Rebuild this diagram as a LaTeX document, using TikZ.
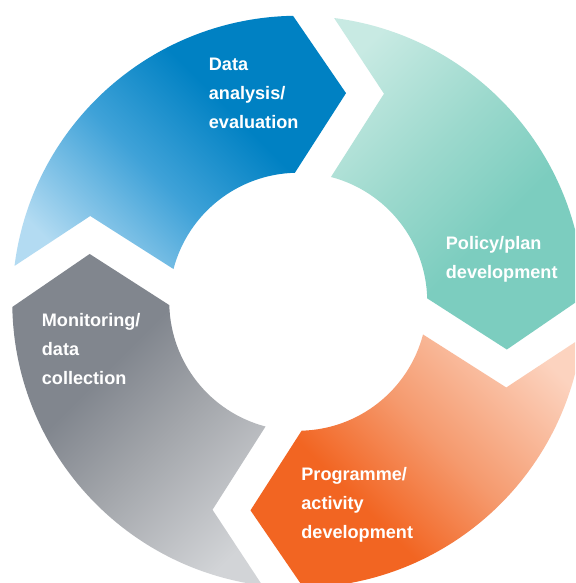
\documentclass[tikz,border=0pt]{standalone}
\usepackage{fontspec}
\setmainfont{Liberation Sans}
\definecolor{bluelight}{HTML}{B3DBF2}
\definecolor{bluemid}{HTML}{3FA2D8}
\definecolor{bluedark}{HTML}{0081C3}
\definecolor{teallight}{HTML}{C8EAE3}
\definecolor{tealmid}{HTML}{9CD9CD}
\definecolor{tealdark}{HTML}{7CCDBF}
\definecolor{orangelight}{HTML}{FCD3BF}
\definecolor{orangemid}{HTML}{F59A6E}
\definecolor{orangedark}{HTML}{F26522}
\definecolor{graylight}{HTML}{D2D4D7}
\definecolor{graymid}{HTML}{A2A5AA}
\definecolor{graydark}{HTML}{81868E}
\pgfdeclarehorizontalshading{blueshade}{100bp}{color(0bp)=(bluelight); color(22bp)=(bluelight); color(43bp)=(bluemid); color(60bp)=(bluedark); color(100bp)=(bluedark)}
\pgfdeclarehorizontalshading{tealshade}{100bp}{color(0bp)=(teallight); color(22bp)=(teallight); color(43bp)=(tealmid); color(60bp)=(tealdark); color(100bp)=(tealdark)}
\pgfdeclarehorizontalshading{orangeshade}{100bp}{color(0bp)=(orangelight); color(22bp)=(orangelight); color(45bp)=(orangemid); color(62bp)=(orangedark); color(100bp)=(orangedark)}
\pgfdeclarehorizontalshading{grayshade}{100bp}{color(0bp)=(graylight); color(22bp)=(graylight); color(45bp)=(graymid); color(60bp)=(graydark); color(100bp)=(graydark)}
\newcommand\cycseg[3]{% #1 angle offset, #2 shading, #3 shading angle
  \begin{scope}[shift={(298.25,281.25)}]
    \shade[shading=#2, shading angle=#3]
      ({91.05+#1}:286pt) -- ({77.1+#1}:214pt) -- ({91.5+#1}:129pt)
      arc[start angle={91.5+#1}, end angle={165.3+#1}, radius=129pt]
      -- ({157.6+#1}:225pt) -- ({172.8+#1}:286pt)
      arc[start angle={172.8+#1}, end angle={91.05+#1}, radius=286pt] -- cycle;
  \end{scope}}
\tikzset{lbl/.style={text=white, font=\fontsize{18.1}{29}\selectfont\bfseries, align=left, inner sep=0pt, anchor=base west}}
\begin{document}
\begin{tikzpicture}[x=1pt,y=1pt]
\useasboundingbox (0,0) rectangle (575,583);
\fill[white] (0,0) rectangle (575,583);
\begin{scope}
\clip (0,0) rectangle (575,583);
\cycseg{0}{blueshade}{45}
\cycseg{-90}{tealshade}{-45}
\cycseg{-180}{orangeshade}{-135}
\cycseg{-270}{grayshade}{135}
\end{scope}
% base anchor of a multi-line node is the baseline of its last line
\node[lbl] (t1) at (208.7,454) {Data\\analysis/\\evaluation};
\node[lbl] (t2) at (445.7,304) {Policy/plan\\development};
\node[lbl] (t3) at (301.2,44) {Programme/\\activity\\development};
\node[lbl] (t4) at (41.7,198.5) {Monitoring/\\data\\collection};
\end{tikzpicture}
\end{document}
